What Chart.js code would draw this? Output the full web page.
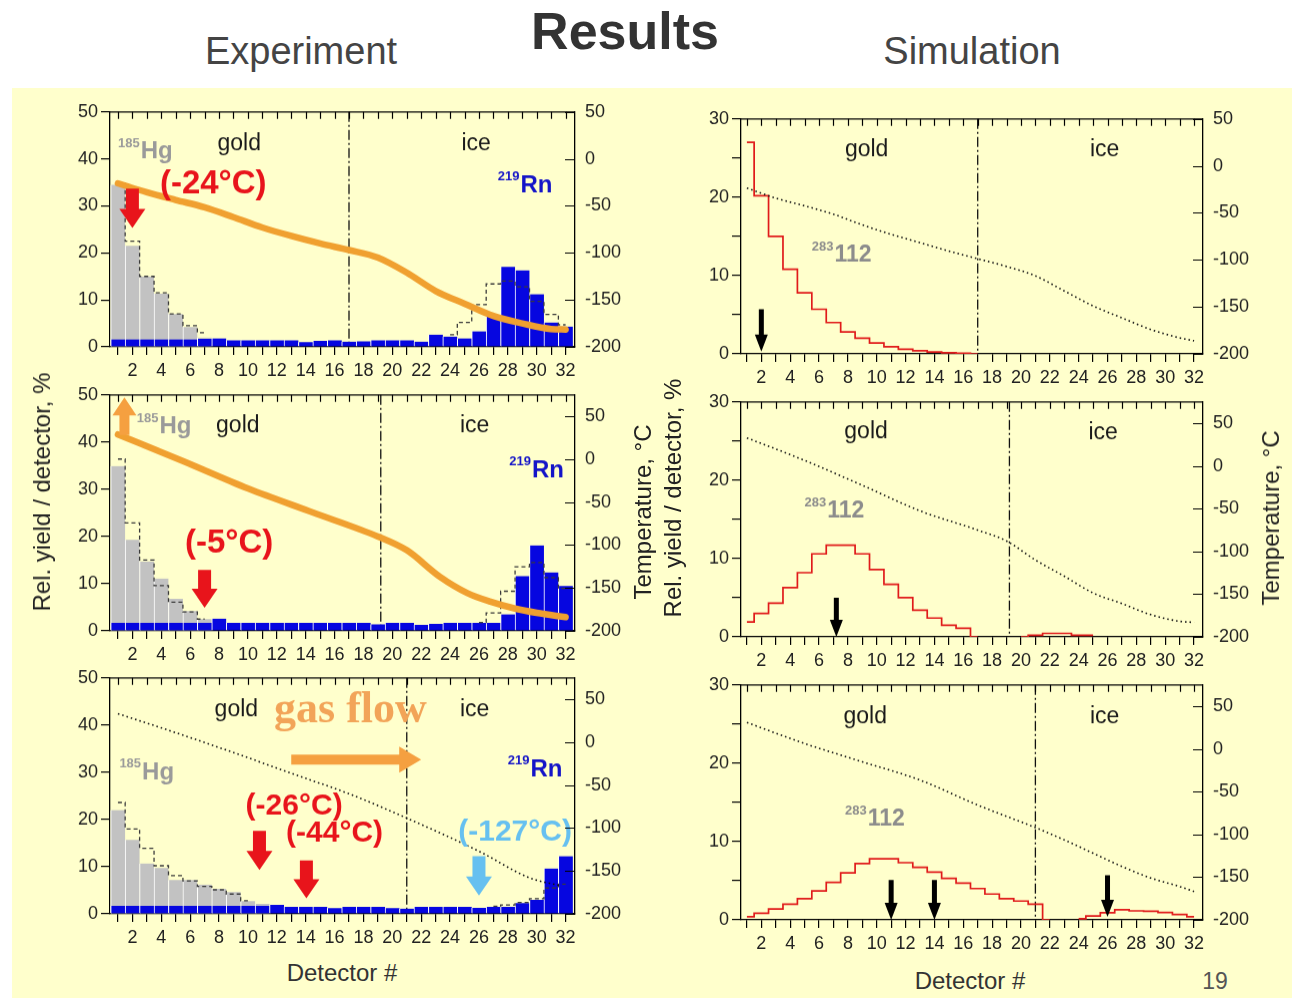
<!DOCTYPE html>
<html><head><meta charset="utf-8">
<script src="https://cdn.jsdelivr.net/npm/chart.js@4.4.1/dist/chart.umd.min.js"></script>
<style>
body{margin:0;background:#fff;width:1293px;height:1000px;position:relative;overflow:hidden;font-family:"Liberation Sans",Arial,sans-serif;}
#bg{position:absolute;left:12px;top:88px;width:1280px;height:910px;background:#FFFFCC;}
canvas{position:absolute;}
.t{position:absolute;white-space:nowrap;transform:translate(-50%,-50%);color:#333;}
.v{position:absolute;white-space:nowrap;transform:translate(-50%,-50%) rotate(-90deg);color:#222;font-size:24px;}
</style></head><body>
<div id="bg"></div>
<div class="t" style="left:625px;top:31px;font-size:52px;font-weight:bold;">Results</div>
<div class="t" style="left:301px;top:51px;font-size:38px;color:#444;">Experiment</div>
<div class="t" style="left:972px;top:51px;font-size:38px;color:#444;">Simulation</div>
<canvas id="tl"></canvas><canvas id="ml"></canvas><canvas id="bl"></canvas>
<canvas id="tr"></canvas><canvas id="mr"></canvas><canvas id="br"></canvas>
<div class="v" style="left:42px;top:492px;">Rel. yield / detector, %</div>
<div class="v" style="left:643px;top:512px;">Temperature, °C</div>
<div class="v" style="left:673px;top:498px;">Rel. yield / detector, %</div>
<div class="v" style="left:1271px;top:518px;">Temperature, °C</div>
<div class="t" style="left:342px;top:973px;font-size:24px;">Detector #</div>
<div class="t" style="left:970px;top:981px;font-size:24px;">Detector #</div>
<div class="t" style="left:1215px;top:981px;font-size:23px;color:#555;">19</div>
<script>
// ---------- DATA ----------
const detectors = [1,2,3,4,5,6,7,8,9,10,11,12,13,14,15,16,17,18,19,20,21,22,23,24,25,26,27,28,29,30,31,32];

// Experiment, top (-24°C)
const tlHg    = [34.5,21.5,15,11.3,7,4.2,2,null,null,null,null,null,null,null,null,null,null,null,null,null,null,null,null,null,null,null,null,null,null,null,null,null];
const tlRn    = [1.6,1.6,1.6,1.6,1.6,1.6,1.7,1.8,1.4,1.4,1.4,1.4,1.4,1.0,1.3,1.4,1.1,1.2,1.4,1.4,1.4,1.1,2.6,2.2,1.8,3.3,6.4,17,16.3,11.2,5.2,4.3];
const tlSim   = [34.8,22.5,15,11.5,7,4.5,3,null,null,null,null,null,null,null,null,null,null,null,null,null,null,null,null,2.6,5.2,9,13.4,14,12.8,9.7,6.9,4.7];
const tlTempX = [1,3,5,7,9,11,13,15,17,19,21,23,25,27,29,31,32];
const tlTemp  = [-26,-35.5,-43.7,-51.5,-62,-73,-82,-90,-97,-105,-121,-140.5,-154,-167,-175,-181,-181.5];

// Experiment, middle (-5°C)
const mlHg    = [34.9,19.3,14.7,11.1,6.8,4.2,2.5,null,null,null,null,null,null,null,null,null,null,null,null,null,null,null,null,null,null,null,null,null,null,null,null,null];
const mlRn    = [1.7,1.7,1.7,1.7,1.7,1.7,1.7,2.6,1.7,1.7,1.7,1.7,1.7,1.7,1.7,1.7,1.7,1.7,1.4,1.7,1.7,1.3,1.5,1.7,1.7,1.7,1.7,3.5,11.6,18.1,12.4,9.5];
const mlSim   = [36.4,22.9,15,9.6,6.1,4,2.5,null,null,null,null,null,null,null,null,null,null,null,null,null,null,null,null,null,null,1.8,3.8,8.4,13.6,14.5,11.3,9];
const mlTempX = [1,5.5,10,14.5,19,21,23.3,25.2,26.8,28.5,30,32];
const mlTemp  = [29,-2,-34,-62,-90,-106,-137,-156,-166,-174,-179,-184];

// Experiment, bottom (-26/-44/-127°C)
const blHg    = [22,15.7,10.7,9.7,7.2,7.2,6.2,5.3,4.6,2.7,2.1,null,null,null,null,null,null,null,null,null,null,null,null,null,null,null,null,null,null,null,null,null];
const blRn    = [1.7,1.7,1.7,1.7,1.7,1.7,1.7,1.7,1.7,1.7,1.7,1.9,1.5,1.5,1.5,1.2,1.5,1.5,1.5,1.2,1.1,1.5,1.5,1.5,1.5,1.3,1.5,1.5,2.3,3.0,9.6,12.2];
const blSim   = [23.6,18,13.9,10.2,8.1,7,5.8,5.1,4.2,2.8,null,null,null,null,null,null,null,null,null,null,null,null,null,null,null,null,1.6,1.9,2.4,3.2,5.5,6.3];
const blTempX = [1,5,9,11,14,17,21,26,29.5,31.6];
const blTemp  = [33.3,11.2,-12,-24,-42,-60,-88.4,-127,-158,-167];

// Simulation (283112)
const trSim   = [27,20.2,15,10.8,7.8,5.7,4,2.8,2,1.4,0.9,0.6,0.4,0.25,0.15,0.08,0,null,null,null,null,null,null,null,null,null,null,null,null,null,null,null];
const trTempX = [1,3,5,7,9,11,13,15,17,19,21,23,25,27,29,31,32];
const trTemp  = [-23.7,-34.3,-42.5,-51.4,-62.8,-72.8,-81.7,-90.6,-98.8,-107,-117,-133,-149,-161.7,-174,-183,-186];

const mrSim   = [1.9,3.0,4.3,6.3,8.2,10.6,11.7,11.7,10.6,8.6,6.7,5.0,3.4,2.4,1.5,1.1,0,null,null,0,0.2,0.45,0.45,0.2,0.2,null,null,null,null,null,null,null];
const mrTempX = [1,5,9,13,17,19,21,23,25,27,29,31,32];
const mrTemp  = [32.9,6.5,-22.6,-52.5,-75,-87.8,-110,-129,-148.6,-161,-174,-181.8,-183];

const brSim   = [0.4,0.85,1.4,2.0,2.7,3.7,4.8,6.0,7.2,7.8,7.8,7.3,6.7,6.1,5.3,4.7,4.0,3.3,2.7,2.4,2.0,0,null,0.15,0.5,0.9,1.3,1.15,1.1,0.95,0.7,0.4];
const brTempX = [1,5,9,13,17,21,23,25,27,29,31,32];
const brTemp  = [31,6.4,-15,-36.4,-65.6,-92,-106.4,-122,-137.5,-151,-161,-166.7];

// gold/ice boundaries (detector #)
const boundaries = {tl:17, ml:19.2, bl:21, tr:17, mr:19.2, br:21};
// arrows: [detector, from value, to value]
const tlArrows = [[2,33.7,25.3]];
const mlArrows = [[7,12.9,4.9]];
const mlUpArrow = [[1.45,41.5,49.5]];
const blArrows = [[10.8,17.6,9.3],[14.05,11.3,3.3]];
const blBlueArrows = [[26,12.2,3.9]];
const blFlowArrow = [13,22,32.7];
const trArrows = [[2,5.7,0.3]];
const mrArrows = [[7.2,5.0,0]];
const brArrows = [[11,5.1,0],[14,5.1,0],[26,5.7,0.4]];

// ---------- STYLE ----------
const GRAY='#C2C2C2', BLUE='#0606E0', RED='#E8141B', ORANGE='#F0A030', LBLUE='#66C0F0';
const SANS='"Liberation Sans", Arial, sans-serif', SERIF='"Liberation Serif","Times New Roman",serif';
Chart.defaults.font.family = SANS;
Chart.defaults.font.size = 18;
Chart.defaults.color = '#222';

const pts = (vals) => vals.map((v,i)=>({x:detectors[i], y:v}));
const pairs = (xs, ys) => xs.map((x,i)=>({x:x, y:ys[i]}));

function barDs(vals, color, order){
  return {type:'bar', data:pts(vals), backgroundColor:color, borderColor:'#ffffff',
    borderWidth:{left:1,right:0,top:0,bottom:0}, borderSkipped:false, grouped:false,
    barPercentage:1, categoryPercentage:1, order:order, yAxisID:'y'};
}
function histDs(vals, order){
  return {type:'line', data:pts(vals), borderColor:'#3a3a3a', borderWidth:1.3, borderDash:[4,3],
    stepped:'middle', pointRadius:0, fill:false, order:order, yAxisID:'y'};
}
function simDs(vals){
  return {type:'line', data:pts(vals), borderColor:'#E01A1A', borderWidth:1.7,
    stepped:'middle', pointRadius:0, fill:false, order:2, yAxisID:'y'};
}
function tempOrange(xs, ys){
  return {type:'line', data:pairs(xs,ys), borderColor:ORANGE, borderWidth:6.5, cubicInterpolationMode:'monotone',
    pointRadius:0, fill:false, order:1, yAxisID:'y2', borderCapStyle:'round'};
}
function tempDotted(xs, ys){
  return {type:'line', data:pairs(xs,ys), borderColor:'#111', borderWidth:1.6, borderDash:[1.5,3],
    cubicInterpolationMode:'monotone', pointRadius:0, fill:false, order:1, yAxisID:'y2'};
}

const specs = {};
function drawArrow(ctx, x1, y1, x2, y2, color, shaftW, headW, headL){
  const dx=x2-x1, dy=y2-y1, len=Math.hypot(dx,dy), ux=dx/len, uy=dy/len, nx=-uy, ny=ux;
  const bx=x2-ux*headL, by=y2-uy*headL;
  ctx.save(); ctx.fillStyle=color; ctx.beginPath();
  ctx.moveTo(x1+nx*shaftW/2, y1+ny*shaftW/2);
  ctx.lineTo(bx+nx*shaftW/2, by+ny*shaftW/2);
  ctx.lineTo(bx+nx*headW/2, by+ny*headW/2);
  ctx.lineTo(x2, y2);
  ctx.lineTo(bx-nx*headW/2, by-ny*headW/2);
  ctx.lineTo(bx-nx*shaftW/2, by-ny*shaftW/2);
  ctx.lineTo(x1-nx*shaftW/2, y1-ny*shaftW/2);
  ctx.closePath(); ctx.fill(); ctx.restore();
}
function drawLabel(ctx, xs, ys, L){
  const px=xs.getPixelForValue(L.x), py=ys.getPixelForValue(L.y);
  const fam = L.serif ? SERIF : SANS;
  const w = L.bold ? 'bold ' : '';
  const supSize = L.supSize || 13;
  ctx.save(); ctx.fillStyle=L.color; ctx.textBaseline='middle'; ctx.textAlign='left';
  let supW=0;
  if (L.sup){ ctx.font = w+supSize+'px '+fam; supW = ctx.measureText(L.sup).width+1; }
  ctx.font = w+L.size+'px '+fam;
  const mainW = ctx.measureText(L.t).width;
  const x0 = L.align==='center' ? px-(supW+mainW)/2 : px;
  if (L.sup){ ctx.font = w+supSize+'px '+fam; ctx.fillText(L.sup, x0, py-L.size*0.36); }
  ctx.font = w+L.size+'px '+fam; ctx.fillText(L.t, x0+supW, py);
  ctx.restore();
}

const decor = {
  id:'decor',
  beforeDatasetsDraw(chart){
    const s = specs[chart.canvas.id]; const {ctx, chartArea:a, scales} = chart;
    const x = scales.x.getPixelForValue(s.boundary);
    ctx.save(); ctx.strokeStyle='#111'; ctx.lineWidth=1.3; ctx.setLineDash([10,3,2,3]);
    ctx.beginPath(); ctx.moveTo(x,a.top); ctx.lineTo(x,a.bottom); ctx.stroke(); ctx.restore();
  },
  afterDatasetsDraw(chart){
    const s = specs[chart.canvas.id]; const {ctx, scales} = chart; const xs=scales.x, ys=scales.y;
    (s.arrows||[]).forEach(A=>{
      drawArrow(ctx, xs.getPixelForValue(A.x1), ys.getPixelForValue(A.y1), xs.getPixelForValue(A.x2), ys.getPixelForValue(A.y2),
        A.color, A.shaft, A.head, A.headL);
    });
    (s.texts||[]).forEach(L=>drawLabel(ctx, xs, ys, L));
  },
  afterDraw(chart){
    const {ctx, chartArea:a, scales} = chart;
    ctx.save(); ctx.strokeStyle='#000'; ctx.lineWidth=1.3;
    ctx.beginPath(); ctx.moveTo(a.left, a.top); ctx.lineTo(a.right, a.top); ctx.stroke();
    ctx.lineWidth=1.2; ctx.beginPath();
    detectors.forEach(d=>{ const x=Math.round(scales.x.getPixelForValue(d))+0.5; ctx.moveTo(x,a.top); ctx.lineTo(x,a.top+7); });
    scales.y2.ticks.forEach(t=>{ const y=Math.round(scales.y2.getPixelForValue(t.value))+0.5; ctx.moveTo(a.right,y); ctx.lineTo(a.right-10,y); });
    ctx.stroke(); ctx.restore();
  }
};

function buildConfig(cfg){
  const yTicks=[]; for(let v=0; v<=cfg.yMax; v+=5) yTicks.push(v);
  const y2Ticks=[]; for(let v=-200; v<=cfg.y2Max; v+=25) y2Ticks.push(v);
  return {
    type:'bar',
    data:{datasets:cfg.datasets()},
    options:{
      responsive:false, maintainAspectRatio:false, animation:false, devicePixelRatio:1,
      layout:{padding:{top:12,left:0,right:0,bottom:0}},
      plugins:{legend:{display:false}, tooltip:{enabled:false}},
      scales:{
        x:{type:'linear', min:cfg.xMin, max:cfg.xMax, offset:false,
          afterBuildTicks:s=>{ s.ticks = detectors.map(v=>({value:v})); },
          afterFit:s=>{ s.height=40; },
          ticks:{autoSkip:false, maxRotation:0, padding:5, callback:v=> (v%2===0 ? String(v) : '')},
          grid:{drawOnChartArea:false, drawTicks:true, tickLength:8, color:'#000', lineWidth:1.2, offset:false},
          border:{display:true, color:'#000', width:1.3}},
        y:{type:'linear', position:'left', min:0, max:cfg.yMax,
          afterBuildTicks:s=>{ s.ticks = yTicks.map(v=>({value:v})); },
          afterFit:s=>{ s.width=60; },
          ticks:{padding:3, callback:v=> (v%10===0 ? String(v) : '')},
          grid:{drawOnChartArea:false, drawTicks:true, tickLength:9, color:'#000', lineWidth:1.2},
          border:{display:true, color:'#000', width:1.3}},
        y2:{type:'linear', position:'right', min:-200, max:cfg.y2Max,
          afterBuildTicks:s=>{ s.ticks = y2Ticks.map(v=>({value:v})); },
          afterFit:s=>{ s.width=70; },
          ticks:{padding:10, callback:v=> (v%50===0 ? String(v) : '')},
          grid:{drawOnChartArea:false, drawTicks:false},
          border:{display:true, color:'#000', width:1.3}}
      }
    },
    plugins:[decor]
  };
}

function makePanel(id, area, cfg){
  const cv = document.getElementById(id);
  specs[id] = cfg;
  let W = (area.r-area.l)+130, H=(area.b-area.t)+52;
  cv.width=W; cv.height=H; cv.style.width=W+'px'; cv.style.height=H+'px';
  let chart = new Chart(cv, buildConfig(cfg));
  let ca = chart.chartArea;
  W += (area.r-area.l) - (ca.right-ca.left);
  H += (area.b-area.t) - (ca.bottom-ca.top);
  chart.destroy();
  cv.width=W; cv.height=H; cv.style.width=W+'px'; cv.style.height=H+'px';
  chart = new Chart(cv, buildConfig(cfg));
  ca = chart.chartArea;
  cv.style.left=(area.l-ca.left)+'px'; cv.style.top=(area.t-ca.top)+'px';
}

// label helpers
const txt = (x,y,t,extra)=>Object.assign({x:x,y:y,t:t,size:23,color:'#1a1a1a',align:'center'},extra||{});
const hgLabel = (x,y)=>({x:x,y:y,sup:'185',t:'Hg',size:24,color:'#9A9A9A',bold:true,align:'left'});
const rnLabel = (x,y)=>({x:x,y:y,sup:'219',t:'Rn',size:24,color:'#1414C8',bold:true,align:'left'});
const elLabel = (x,y)=>({x:x,y:y,sup:'283',t:'112',size:23,color:'#8C8C8C',bold:true,align:'left'});
const tempLabel = (x,y,t,color,size)=>({x:x,y:y,t:t,size:size,color:color,bold:true,align:'center'});
const vArrows = (list,color,shaft,head,headL)=>list.map(a=>({x1:a[0],y1:a[1],x2:a[0],y2:a[2],color:color,shaft:shaft,head:head,headL:headL}));

const LX = {xMin:0.45, xMax:32.65};
const RX = {xMin:0.59, xMax:32.62};

makePanel('tl', {l:110,t:112,r:575,b:347}, Object.assign({}, LX, {
  yMax:50, y2Max:50, boundary:boundaries.tl,
  datasets:()=>[barDs(tlHg,GRAY,5), barDs(tlRn,BLUE,4), histDs(tlSim,3), tempOrange(tlTempX,tlTemp)],
  texts:[hgLabel(1.0,41.5), txt(9.4,43.2,'gold'), txt(25.8,43.2,'ice'), rnLabel(27.3,34.3),
         tempLabel(7.6,34.7,'(-24°C)',RED,33)],
  arrows:vArrows(tlArrows,RED,13,26,19)
}));
makePanel('ml', {l:110,t:395,r:575,b:631}, Object.assign({}, LX, {
  yMax:50, y2Max:75, boundary:boundaries.ml,
  datasets:()=>[barDs(mlHg,GRAY,5), barDs(mlRn,BLUE,4), histDs(mlSim,3), tempOrange(mlTempX,mlTemp)],
  texts:[hgLabel(2.3,43.2), txt(9.3,43.4,'gold'), txt(25.7,43.4,'ice'), rnLabel(28.1,34.0),
         tempLabel(8.7,18.5,'(-5°C)',RED,33)],
  arrows:vArrows(mlArrows,RED,13,26,19).concat(vArrows(mlUpArrow,'#F5A040',10,24,18))
}));
makePanel('bl', {l:110,t:678,r:575,b:914}, Object.assign({}, LX, {
  yMax:50, y2Max:75, boundary:boundaries.bl,
  datasets:()=>[barDs(blHg,GRAY,5), barDs(blRn,BLUE,4), histDs(blSim,3), tempDotted(blTempX,blTemp)],
  texts:[txt(9.2,43.2,'gold'), {x:17.1,y:43.0,t:'gas flow',size:44,color:'#F2A458',bold:true,serif:true,align:'center'},
         txt(25.7,43.2,'ice'), hgLabel(1.1,29.9), rnLabel(28.0,30.6),
         tempLabel(13.2,22.7,'(-26°C)',RED,30), tempLabel(16.0,17.0,'(-44°C)',RED,30),
         tempLabel(28.5,17.2,'(-127°C)',LBLUE,30)],
  arrows:vArrows(blArrows,RED,13,26,19).concat(vArrows(blBlueArrows,LBLUE,13,26,19))
    .concat([{x1:blFlowArrow[0],y1:blFlowArrow[2],x2:blFlowArrow[1],y2:blFlowArrow[2],color:'#F5A040',shaft:10,head:26,headL:22}])
}));
makePanel('tr', {l:741,t:119,r:1203,b:354}, Object.assign({}, RX, {
  yMax:30, y2Max:50, boundary:boundaries.tr,
  datasets:()=>[simDs(trSim), tempDotted(trTempX,trTemp)],
  texts:[txt(9.3,26,'gold'), txt(25.8,26,'ice'), elLabel(5.5,12.6)],
  arrows:vArrows(trArrows,'#000',5,13,17)
}));
makePanel('mr', {l:741,t:402,r:1203,b:637}, Object.assign({}, RX, {
  yMax:30, y2Max:75, boundary:boundaries.mr,
  datasets:()=>[simDs(mrSim), tempDotted(mrTempX,mrTemp)],
  texts:[txt(9.26,26.2,'gold'), txt(25.7,26.0,'ice'), elLabel(5.0,16.0)],
  arrows:vArrows(mrArrows,'#000',5,13,17)
}));
makePanel('br', {l:741,t:685,r:1203,b:920}, Object.assign({}, RX, {
  yMax:30, y2Max:75, boundary:boundaries.br,
  datasets:()=>[simDs(brSim), tempDotted(brTempX,brTemp)],
  texts:[txt(9.2,25.9,'gold'), txt(25.8,25.9,'ice'), elLabel(7.8,12.8)],
  arrows:vArrows(brArrows,'#000',5,13,17)
}));
</script>
</body></html>
